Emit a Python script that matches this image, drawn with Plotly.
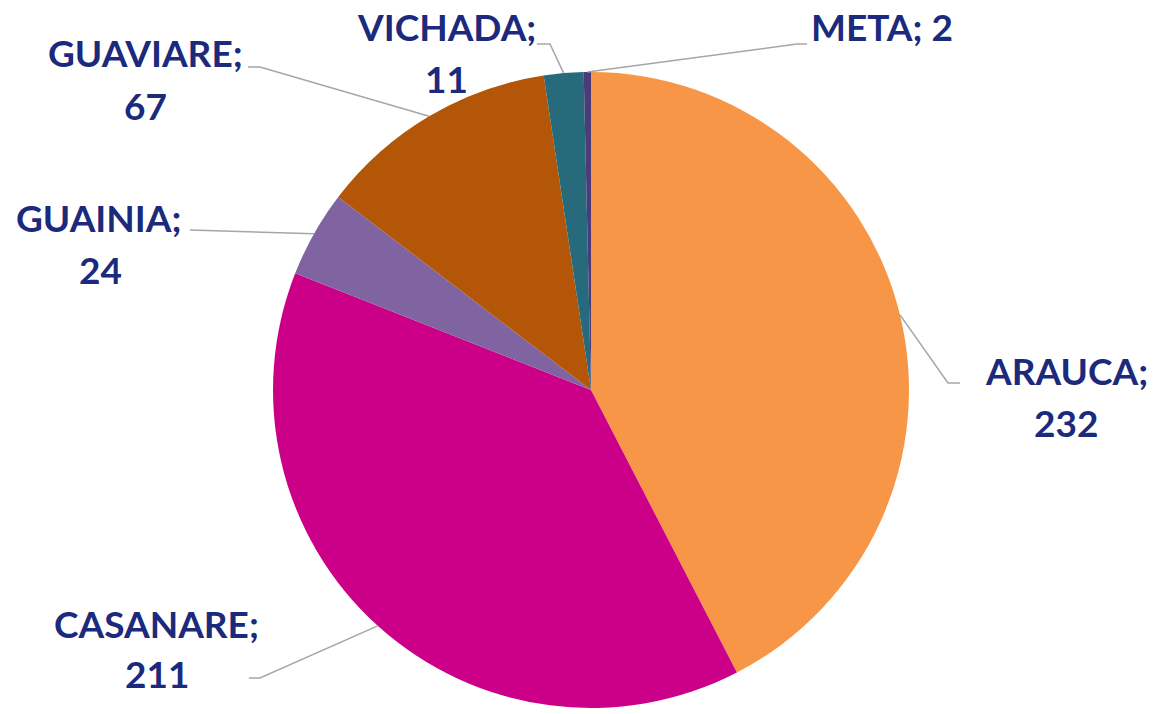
import math
import plotly.graph_objects as go

# ---- data ----
departments = ["ARAUCA", "CASANARE", "GUAINIA", "GUAVIARE", "VICHADA", "META"]
counts = [232, 211, 24, 67, 11, 2]
slice_colors = ["#F79646", "#CC0088", "#8064A2", "#B45607", "#276A7C", "#4B3B78"]

# ---- layout constants (pixels) ----
W, H = 1153, 714
CX, CY, R = 591, 390, 318
# label centres (name line, value line) and leader elbow / end points
name_pos = {"ARAUCA": (1066, 370), "CASANARE": (157, 623), "GUAINIA": (99, 217),
            "GUAVIARE": (145, 53), "VICHADA": (446, 27), "META": (882, 27)}
value_pos = {"ARAUCA": (1066, 422), "CASANARE": (157, 673), "GUAINIA": (100, 269),
             "GUAVIARE": (145, 105), "VICHADA": (446, 78), "META": None}
elbows = {"ARAUCA": [(948, 383), (960, 383)], "CASANARE": [(260, 678), (249, 678)],
          "GUAINIA": [(190, 230)], "GUAVIARE": [(260, 67), (248, 67)],
          "VICHADA": [(550, 44), (537, 44)], "META": [(797, 44), (807, 44)]}

TEXT_COLOR = "#1B2A7C"
FONT = "Lato"
FS = 37


def px(x):
    return x / W


def py(y):
    return 1 - y / H


fig = go.Figure(go.Pie(
    labels=departments,
    values=counts,
    sort=False,
    direction="clockwise",
    rotation=0,
    marker=dict(colors=slice_colors, line=dict(width=0)),
    textinfo="none",
    hoverinfo="label+value",
    domain=dict(x=[px(CX - R), px(CX + R)], y=[py(CY + R), py(CY - R)]),
))

total = sum(counts)
cum = 0
shapes = []
annotations = []


def add_text(txt, pos):
    annotations.append(dict(text="<b>{}</b>".format(txt), x=px(pos[0]), y=py(pos[1]),
                            xref="paper", yref="paper", showarrow=False,
                            xanchor="center", yanchor="middle",
                            font=dict(family=FONT, size=FS, color=TEXT_COLOR)))


for name, v in zip(departments, counts):
    mid = (cum + v / 2) / total
    cum += v
    ang = 2 * math.pi * mid
    sx = CX + R * math.sin(ang)
    sy = CY - R * math.cos(ang)
    pts = [(sx, sy)] + elbows[name]
    path = "M {} {}".format(px(pts[0][0]), py(pts[0][1]))
    for (x, y) in pts[1:]:
        path += " L {} {}".format(px(x), py(y))
    shapes.append(dict(type="path", path=path, xref="paper", yref="paper",
                       line=dict(color="#A6A6A6", width=1.5)))
    if value_pos[name] is None:
        add_text("{}; {}".format(name, v), name_pos[name])
    else:
        add_text("{};".format(name), name_pos[name])
        add_text("{}".format(v), value_pos[name])

fig.update_layout(
    width=W, height=H,
    margin=dict(l=0, r=0, t=0, b=0),
    paper_bgcolor="white",
    plot_bgcolor="white",
    showlegend=False,
    shapes=shapes,
    annotations=annotations,
)

fig.write_html("out.html", config={"displayModeBar": False},
               post_script="document.body.style.margin='0';")
